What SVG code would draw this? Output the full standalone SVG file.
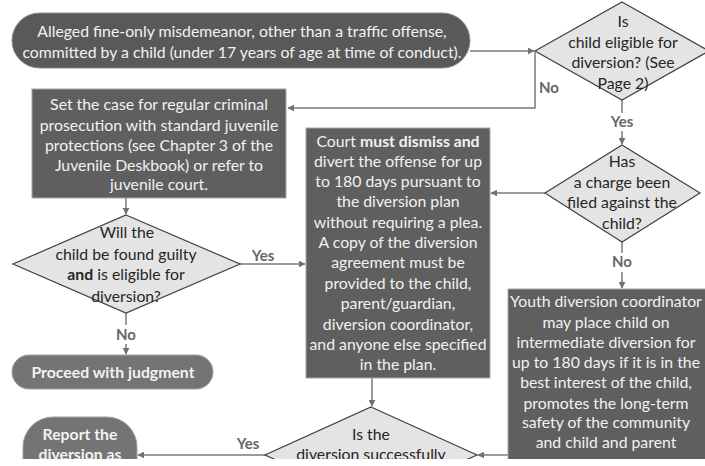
<svg xmlns="http://www.w3.org/2000/svg" width="705" height="466" viewBox="0 0 705 466">
<defs>
<marker id="ah" viewBox="0 0 10 10" refX="9" refY="5" markerWidth="7" markerHeight="7" markerUnits="userSpaceOnUse" orient="auto">
<path d="M0,0 L10,5 L0,10 z" fill="#707070"/>
</marker>
<clipPath id="cut"><rect x="0" y="0" width="705" height="459"/></clipPath>
<style>
text{font-family:Lato,"Open Sans","Liberation Sans",sans-serif;font-size:15.8px;text-anchor:middle}
.box{fill:#5f5f5f;stroke:#a6a6a6;stroke-width:1}
.pill{fill:#595959;stroke:#8c8c8c;stroke-width:1}
.pill2{fill:#747474;stroke:#a0a0a0;stroke-width:1}
.dia{fill:#e4e4e4;stroke:#404040;stroke-width:1.2}
.wt{fill:#f2f2f2}
.dt{fill:#262626}
.lbl{fill:#666666;font-weight:bold;font-size:15px}
.b{font-weight:bold}
.con{fill:none;stroke:#7a7a7a;stroke-width:1.5}
</style>
</defs>
<rect width="705" height="466" fill="#ffffff"/>
<g clip-path="url(#cut)">
<g id="connectors">
<path class="con" d="M470,51 H534" marker-end="url(#ah)"/>
<path class="con" d="M535,52 V108 H288" marker-end="url(#ah)"/>
<path class="con" d="M622,100 V113"/>
<path class="con" d="M622,131 V144" marker-end="url(#ah)"/>
<path class="con" d="M545,193 H491" marker-end="url(#ah)"/>
<path class="con" d="M622,242 V253"/>
<path class="con" d="M622,272 V288" marker-end="url(#ah)"/>
<path class="con" d="M126,198 V214" marker-end="url(#ah)"/>
<path class="con" d="M240,264 H305" marker-end="url(#ah)"/>
<path class="con" d="M126,313 V325"/>
<path class="con" d="M126,344 V354" marker-end="url(#ah)"/>
<path class="con" d="M372,378 V406" marker-end="url(#ah)"/>
<path class="con" d="M265,455 H138" marker-end="url(#ah)"/>
<path class="con" d="M508,455 H478" marker-end="url(#ah)"/>
<text class="lbl" x="549" y="93">No</text>
<text class="lbl" x="622" y="127">Yes</text>
<text class="lbl" x="622" y="267">No</text>
<text class="lbl" x="263" y="261">Yes</text>
<text class="lbl" x="126" y="340">No</text>
<text class="lbl" x="248" y="449">Yes</text>
</g>
<g id="start">
<rect class="pill" x="12" y="13" width="458" height="55" rx="27.5"/>
<text class="wt" x="242" y="37">Alleged fine-only misdemeanor, other than a traffic offense,</text>
<text class="wt" x="242" y="58">committed by a child (under 17 years of age at time of conduct).</text>
</g>
<g id="eligible">
<polygon class="dia" points="622,2 709,51 622,100 535,51"/>
<text class="dt" x="623" y="27">Is</text>
<text class="dt" x="623" y="48">child eligible for</text>
<text class="dt" x="623" y="68">diversion? (See</text>
<text class="dt" x="623" y="89">Page 2)</text>
</g>
<g id="regular">
<rect class="box" x="32" y="89" width="254" height="109"/>
<text class="wt" x="159" y="110">Set the case for regular criminal</text>
<text class="wt" x="159" y="131">prosecution with standard juvenile</text>
<text class="wt" x="159" y="151">protections (see Chapter 3 of the</text>
<text class="wt" x="159" y="171">Juvenile Deskbook) or refer to</text>
<text class="wt" x="159" y="190">juvenile court.</text>
</g>
<g id="charged">
<polygon class="dia" points="622,145 700,193 622,242 545,193"/>
<text class="dt" x="622" y="167">Has</text>
<text class="dt" x="622" y="188">a charge been</text>
<text class="dt" x="622" y="208">filed against the</text>
<text class="dt" x="622" y="229">child?</text>
</g>
<g id="court">
<rect class="box" x="306" y="128" width="184" height="250"/>
<text class="wt" x="398" y="147">Court <tspan class="b">must dismiss and</tspan></text>
<text class="wt" x="398" y="167">divert the offense for up</text>
<text class="wt" x="398" y="187">to 180 days  pursuant to</text>
<text class="wt" x="398" y="207">the diversion plan</text>
<text class="wt" x="398" y="228">without requiring a plea.</text>
<text class="wt" x="398" y="248">A copy of the diversion</text>
<text class="wt" x="398" y="268">agreement must be</text>
<text class="wt" x="398" y="289">provided to the child,</text>
<text class="wt" x="398" y="309">parent/guardian,</text>
<text class="wt" x="398" y="330">diversion coordinator,</text>
<text class="wt" x="398" y="350">and anyone else specified</text>
<text class="wt" x="398" y="370">in the plan.</text>
</g>
<g id="guilty">
<polygon class="dia" points="126,215 240,264 126,313 13,264"/>
<text class="dt" x="127" y="238">Will the</text>
<text class="dt" x="126" y="260">child be found guilty</text>
<text class="dt" x="126" y="280"><tspan class="b">and</tspan> is eligible for</text>
<text class="dt" x="126" y="302">diversion?</text>
</g>
<g id="judgment">
<rect class="pill2" x="12" y="355" width="201" height="34" rx="17"/>
<text class="wt b" x="113" y="378">Proceed with judgment</text>
</g>
<g id="youth">
<rect class="box" x="508" y="289" width="200" height="190"/>
<text class="wt" x="606" y="307">Youth diversion coordinator</text>
<text class="wt" x="606" y="328">may place child on</text>
<text class="wt" x="606" y="348">intermediate diversion for</text>
<text class="wt" x="606" y="368">up to 180 days if it is in the</text>
<text class="wt" x="606" y="388">best interest of the child,</text>
<text class="wt" x="606" y="409">promotes the long-term</text>
<text class="wt" x="606" y="428">safety of the community</text>
<text class="wt" x="606" y="448">and child and parent</text>
</g>
<g id="success">
<polygon class="dia" points="371,407 477,455 371,503 265,455"/>
<text class="dt" x="371" y="440">Is the</text>
<text class="dt" x="371" y="460">diversion successfully</text>
</g>
<g id="report">
<rect class="pill2" x="23" y="417" width="114" height="80" rx="30"/>
<text class="wt b" x="80" y="440">Report the</text>
<text class="wt b" x="80" y="460">diversion as</text>
</g>
</g>
</svg>
